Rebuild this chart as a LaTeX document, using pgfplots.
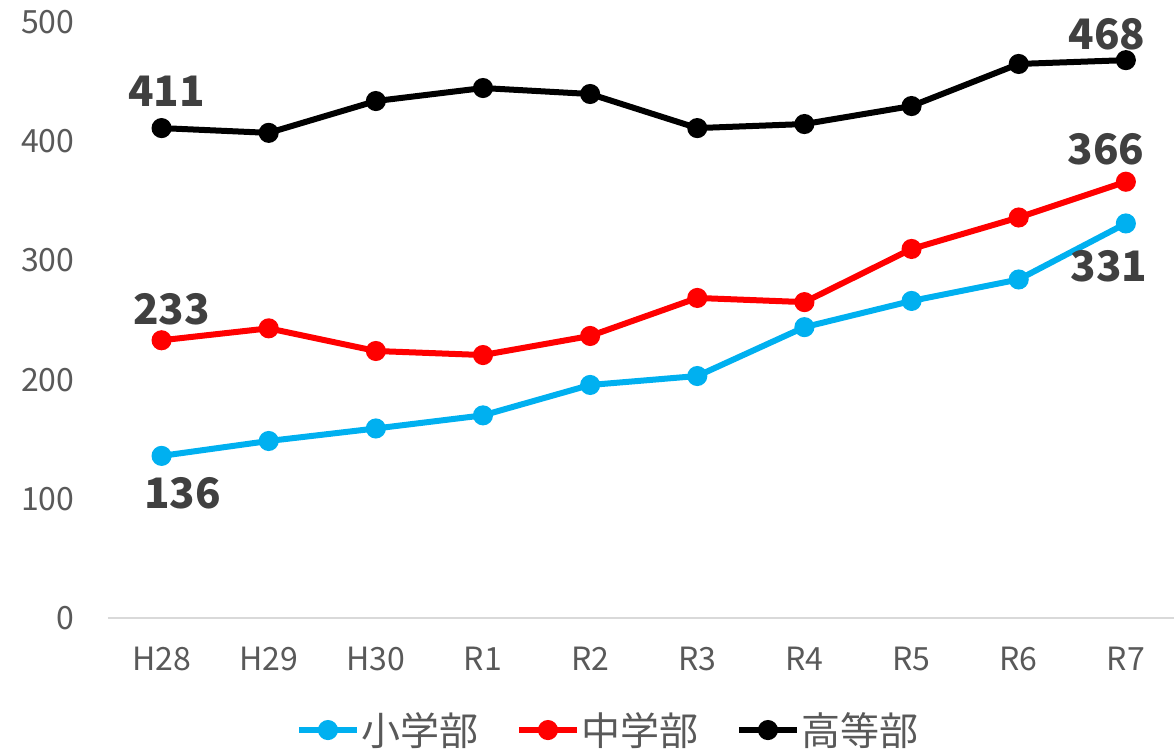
\documentclass[border=0pt]{standalone}
\usepackage{fontspec}
\setmainfont{Noto Sans CJK JP}
\usepackage{pgfplots}
\pgfplotsset{compat=1.18}
\definecolor{cblue}{HTML}{00B0F0}
\definecolor{cred}{HTML}{FF0000}
\definecolor{tickgray}{HTML}{595959}
\definecolor{labgray}{HTML}{404040}
\definecolor{axgray}{HTML}{D9D9D9}
\begin{document}
\begin{tikzpicture}
\useasboundingbox (-108bp,-132bp) rectangle (1066bp,618bp);
\begin{axis}[
  at={(0,0)}, anchor=south west,
  scale only axis, width=1066bp, height=596bp,
  xmin=-0.5, xmax=9.45, ymin=0, ymax=500,
  ytick={0,100,200,300,400,500},
  xtick={0,1,2,3,4,5,6,7,8,9},
  xticklabels={H28,H29,H30,R1,R2,R3,R4,R5,R6,R7},
  axis x line*=bottom, axis y line*=left,
  x axis line style={draw=axgray, line width=1.5bp},
  y axis line style={draw=none},
  major tick length=0pt,
  /pgf/number format/assume math mode=true,
  tick label style={font=\fontsize{32bp}{38bp}\selectfont, text=tickgray},
  yticklabel style={xshift=-30bp},
  xticklabel style={yshift=-26bp},
  clip=false,
  legend style={at={(0.469,-0.188)}, anchor=center, draw=none, fill=none,
    font=\fontsize{39bp}{46bp}\selectfont, text=tickgray,
    legend columns=3,
    nodes={inner sep=1.5bp},
    /tikz/every even column/.append style={column sep=36bp},
    inner sep=0pt},
  legend image code/.code={\draw[mark repeat=2,mark phase=2,#1] plot coordinates {(0bp,0bp)(29bp,0bp)(58bp,0bp)};},
  every axis plot/.append style={line width=6bp, mark=*, mark size=7bp, mark options={line width=0pt}},
]
\addplot[color=cblue, mark options={fill=cblue}] coordinates {(0,136)(1,148.5)(2,159)(3,170)(4,195.5)(5,203)(6,244)(7,266)(8,284)(9,331)};
\addlegendentry{小学部}
\addplot[color=cred, mark options={fill=cred}] coordinates {(0,233)(1,243)(2,224)(3,220.6)(4,236.6)(5,268.5)(6,265)(7,309.6)(8,336)(9,366)};
\addlegendentry{中学部}
\addplot[color=black, mark options={fill=black}] coordinates {(0,411)(1,407)(2,433.7)(3,444.6)(4,439.6)(5,411)(6,414.4)(7,429.5)(8,464.8)(9,468)};
\addlegendentry{高等部}
\tikzset{dl/.style={font=\fontsize{42bp}{50bp}\selectfont\bfseries, text=labgray, anchor=center, inner sep=0pt}}
\node[dl, xshift=5bp, yshift=37bp] at (axis cs:0,411) {411};
\node[dl, xshift=-19bp, yshift=26bp] at (axis cs:9,468) {468};
\node[dl, xshift=-20bp, yshift=32bp] at (axis cs:9,366) {366};
\node[dl, xshift=-17bp, yshift=-43bp] at (axis cs:9,331) {331};
\node[dl, xshift=10bp, yshift=31bp] at (axis cs:0,233) {233};
\node[dl, xshift=21bp, yshift=-37bp] at (axis cs:0,136) {136};
\end{axis}
\end{tikzpicture}
\end{document}
